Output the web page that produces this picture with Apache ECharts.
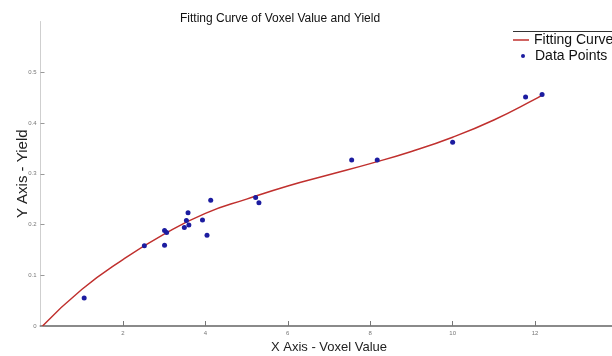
<!DOCTYPE html>
<html>
<head>
<meta charset="utf-8">
<script src="https://cdn.jsdelivr.net/npm/echarts@6/dist/echarts.min.js"></script>
<style>html,body{margin:0;padding:0;background:#fff;}#c{width:612px;height:356px;}</style>
</head>
<body>
<div id="c"></div>
<script>
// Data points (Voxel value, Yield)
const pointX = [1.06, 2.52, 3.01, 3.06, 3.01, 3.49, 3.58, 3.54, 3.60, 3.93, 4.04, 4.13, 5.22, 5.30, 7.55, 8.17, 10.0, 11.77, 12.17];
const pointY = [0.055, 0.158, 0.188, 0.184, 0.159, 0.194, 0.223, 0.208, 0.199, 0.209, 0.179, 0.248, 0.253, 0.243, 0.327, 0.327, 0.362, 0.451, 0.456];
// Fitting curve samples
const curveX = [0.05, 1, 2, 3, 4, 5, 6, 7, 8, 9, 10, 11, 12, 12.17];
const curveY = [0.0, 0.072, 0.131, 0.181, 0.222, 0.250, 0.276, 0.298, 0.320, 0.344, 0.372, 0.406, 0.447, 0.455];

const chart = echarts.init(document.getElementById('c'), null, {renderer: 'canvas'});
const font = 'Liberation Sans, Arial, sans-serif';
chart.setOption({
  animation: false,
  backgroundColor: '#fff',
  title: {
    text: 'Fitting Curve of Voxel Value and Yield',
    left: 175, top: 8,
    textStyle: {fontFamily: font, fontSize: 12, fontWeight: 'normal', color: '#111'}
  },
  legend: [
    {data: [{name: 'Fitting Curve', icon: 'rect'}], left: 513, top: 33, padding: 0, itemWidth: 16, itemHeight: 1.5,
     textStyle: {fontFamily: font, fontSize: 14, color: '#111'}},
    {data: [{name: 'Data Points', icon: 'circle'}], left: 521, top: 49, padding: 0, itemWidth: 14, itemHeight: 4,
     textStyle: {fontFamily: font, fontSize: 14, color: '#111'}}
  ],
  graphic: [{type: 'line', shape: {x1: 513, y1: 31.5, x2: 612, y2: 31.5}, style: {stroke: '#333', lineWidth: 1}}],
  grid: {left: 40.5, top: 21.5, width: 577, height: 304.5, containLabel: false, outerBoundsMode: 'none'},
  xAxis: {
    type: 'value', min: 0, max: 14, interval: 2,
    name: 'X Axis - Voxel Value', nameLocation: 'middle', nameGap: 15, nameMoveOverlap: false,
    nameTextStyle: {fontFamily: font, fontSize: 13, color: '#222'},
    axisLine: {lineStyle: {color: '#8a8a8a', width: 2}},
    axisTick: {inside: true, length: 5, lineStyle: {color: '#777'}},
    axisLabel: {showMinLabel: false, fontSize: 6, color: '#777', margin: 4, fontFamily: font},
    splitLine: {show: false}
  },
  yAxis: {
    type: 'value', min: 0, max: 0.6, interval: 0.1,
    name: 'Y Axis - Yield', nameLocation: 'middle', nameGap: 10, nameMoveOverlap: false,
    nameTextStyle: {fontFamily: font, fontSize: 15, color: '#222'},
    axisLine: {show: true, lineStyle: {color: '#cfcfcf', width: 1}},
    axisTick: {show: true, inside: true, length: 4, lineStyle: {color: '#999'}},
    axisLabel: {showMaxLabel: false, fontSize: 6, color: '#777', margin: 4, fontFamily: font,
      formatter: v => (v === 0 ? '0' : v.toFixed(1))},
    splitLine: {show: false}
  },
  series: [
    {
      name: 'Fitting Curve', type: 'line', smooth: true, symbol: 'none',
      data: curveX.map((x, i) => [x, curveY[i]]),
      lineStyle: {color: '#c0302e', width: 1.5}, itemStyle: {color: '#c0302e'}, z: 2
    },
    {
      name: 'Data Points', type: 'scatter', symbolSize: 5,
      data: pointX.map((x, i) => [x, pointY[i]]),
      itemStyle: {color: '#1c1ca0', opacity: 1}, z: 3
    }
  ]
});
</script>
</body>
</html>
